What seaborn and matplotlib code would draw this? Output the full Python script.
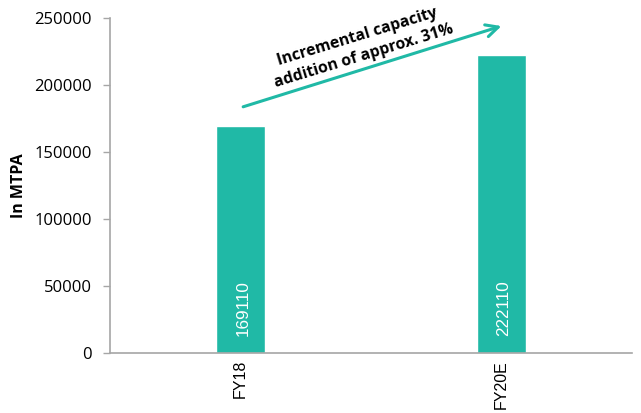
import pandas as pd
import matplotlib
matplotlib.use("Agg")
import matplotlib.pyplot as plt
import seaborn as sns

# === Daten ===
years = ["FY18", "FY20E"]
capacity = [169110, 222110]
y_ticks = [0, 50000, 100000, 150000, 200000, 250000]
arrow_text = "Incremental capacity\naddition of approx. 31%"

teal = "#20B9A6"
grey = "#A6A6A6"

sns.set_theme(style="white")
plt.rcParams["font.family"] = ["Liberation Sans", "DejaVu Sans"]

df = pd.DataFrame({"year": years, "capacity": capacity})

fig = plt.figure(figsize=(6.41, 4.13), dpi=100)
ax = fig.add_axes([110 / 641, 1 - 353 / 413, (632 - 110) / 641, (353 - 18) / 413])

sns.barplot(data=df, x="year", y="capacity", color=teal, width=0.19,
            saturation=1, ax=ax)

ax.set_xlim(-0.5, 1.5)
ax.set_ylim(0, 250000)
ax.set_yticks(y_ticks)
ax.set_yticklabels([str(t) for t in y_ticks], family=["Open Sans", "DejaVu Sans"],
                   fontsize=12, color="black")
ax.set_xlabel("")
ax.set_ylabel("In MTPA", fontsize=11.5, fontweight="bold", color="black",
              family=["Open Sans", "DejaVu Sans"], labelpad=5)

# x-Achse: Striche an den Kategoriegrenzen
ax.set_xticks(range(len(years)))
ax.set_xticklabels(years, rotation=90, fontsize=11.5, color="black")
ax.set_xticks([-0.5, 0.5, 1.5], minor=True)
ax.tick_params(axis="x", which="major", length=0, pad=5)
ax.tick_params(axis="x", which="minor", length=5, color=grey, width=1, direction="out")
ax.tick_params(axis="y", length=5, color=grey, width=1, direction="out", left=True, pad=8)

for side in ["top", "right"]:
    ax.spines[side].set_visible(False)
for side in ["left", "bottom"]:
    ax.spines[side].set_color(grey)
    ax.spines[side].set_linewidth(1.2)

# Werte in den Balken
for i, v in enumerate(capacity):
    ax.text(i + 0.01, 13000, str(v), rotation=90, ha="center", va="bottom",
            color="white", fontsize=12.3)

# Pfeil mit Text
ax.annotate("", xy=(1.01, capacity[1] + 22500), xytext=(0.0, capacity[0] + 14000),
            arrowprops=dict(arrowstyle="->", color=teal, lw=2.2, mutation_scale=22))
ax.text(0.46, 228500, arrow_text, rotation=17, ha="center", va="center",
        fontsize=11.3, fontweight="bold", linespacing=1.3, color="black",
        family=["Open Sans", "DejaVu Sans"])

fig.savefig("out.png", dpi=100)
